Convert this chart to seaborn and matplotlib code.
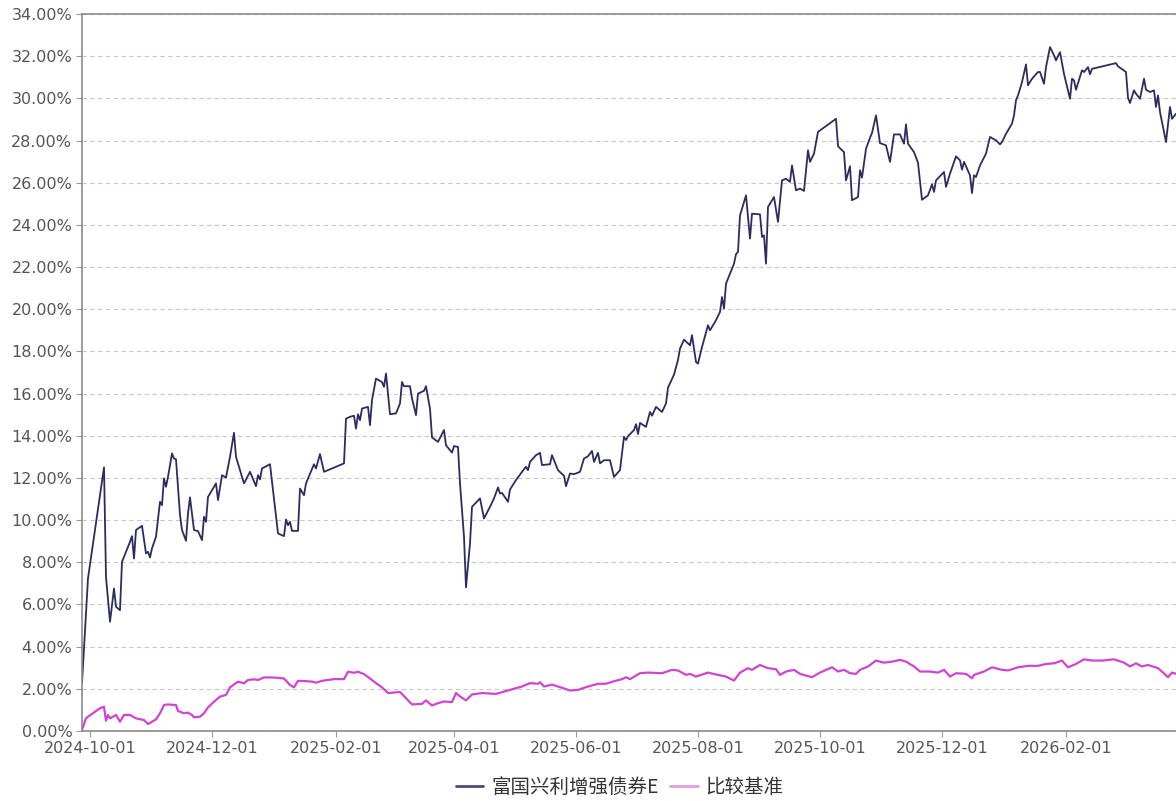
import matplotlib
matplotlib.use("Agg")
import matplotlib.pyplot as plt
import matplotlib.dates as mdates
from matplotlib.lines import Line2D
from matplotlib.ticker import FuncFormatter, MultipleLocator
import seaborn as sns
import pandas as pd

# =====================================
# DATA (cumulative return in %)
# =====================================

fund_name = "富国兴利增强债券E"
bench_name = "比较基准"

fund_dates = [
    "2024-09-27", "2024-09-30", "2024-10-08", "2024-10-09", "2024-10-11", "2024-10-12",
    "2024-10-13", "2024-10-14", "2024-10-16", "2024-10-17", "2024-10-19", "2024-10-21",
    "2024-10-22", "2024-10-23", "2024-10-24", "2024-10-27", "2024-10-29", "2024-10-30",
    "2024-10-31", "2024-11-01", "2024-11-03", "2024-11-05", "2024-11-06", "2024-11-07",
    "2024-11-08", "2024-11-09", "2024-11-11", "2024-11-12", "2024-11-13", "2024-11-15",
    "2024-11-16", "2024-11-18", "2024-11-19", "2024-11-20", "2024-11-22", "2024-11-24",
    "2024-11-26", "2024-11-27", "2024-11-28", "2024-11-29", "2024-12-02", "2024-12-03",
    "2024-12-04", "2024-12-06", "2024-12-08", "2024-12-10", "2024-12-12", "2024-12-13",
    "2024-12-17", "2024-12-20", "2024-12-23", "2024-12-24", "2024-12-25", "2024-12-26",
    "2024-12-30", "2025-01-03", "2025-01-06", "2025-01-07", "2025-01-08", "2025-01-09",
    "2025-01-10", "2025-01-13", "2025-01-14", "2025-01-16", "2025-01-17", "2025-01-21",
    "2025-01-22", "2025-01-24", "2025-01-26", "2025-02-05", "2025-02-06", "2025-02-08",
    "2025-02-10", "2025-02-11", "2025-02-12", "2025-02-13", "2025-02-14", "2025-02-17",
    "2025-02-18", "2025-02-19", "2025-02-21", "2025-02-24", "2025-02-25", "2025-02-26",
    "2025-02-28", "2025-03-03", "2025-03-05", "2025-03-06", "2025-03-07", "2025-03-10",
    "2025-03-11", "2025-03-13", "2025-03-14", "2025-03-17", "2025-03-18", "2025-03-20",
    "2025-03-21", "2025-03-24", "2025-03-27", "2025-03-28", "2025-03-31", "2025-04-01",
    "2025-04-03", "2025-04-04", "2025-04-06", "2025-04-07", "2025-04-09", "2025-04-10",
    "2025-04-14", "2025-04-16", "2025-04-19", "2025-04-21", "2025-04-23", "2025-04-24",
    "2025-04-25", "2025-04-28", "2025-04-29", "2025-05-02", "2025-05-05", "2025-05-07",
    "2025-05-08", "2025-05-09", "2025-05-12", "2025-05-14", "2025-05-15", "2025-05-19",
    "2025-05-20", "2025-05-23", "2025-05-26", "2025-05-27", "2025-05-29", "2025-05-31",
    "2025-06-03", "2025-06-05", "2025-06-07", "2025-06-09", "2025-06-10", "2025-06-12",
    "2025-06-13", "2025-06-15", "2025-06-18", "2025-06-20", "2025-06-23", "2025-06-25",
    "2025-06-26", "2025-06-27", "2025-06-30", "2025-07-01", "2025-07-02", "2025-07-03",
    "2025-07-06", "2025-07-08", "2025-07-09", "2025-07-11", "2025-07-14", "2025-07-16",
    "2025-07-17", "2025-07-20", "2025-07-22", "2025-07-23", "2025-07-25", "2025-07-28",
    "2025-07-29", "2025-07-31", "2025-08-01", "2025-08-03", "2025-08-06", "2025-08-07",
    "2025-08-10", "2025-08-12", "2025-08-13", "2025-08-14", "2025-08-15", "2025-08-18",
    "2025-08-19", "2025-08-20", "2025-08-21", "2025-08-22", "2025-08-25", "2025-08-27",
    "2025-08-28", "2025-09-01", "2025-09-02", "2025-09-03", "2025-09-04", "2025-09-05",
    "2025-09-08", "2025-09-10", "2025-09-12", "2025-09-14", "2025-09-16", "2025-09-17",
    "2025-09-19", "2025-09-21", "2025-09-23", "2025-09-25", "2025-09-26", "2025-09-28",
    "2025-09-30", "2025-10-09", "2025-10-10", "2025-10-13", "2025-10-14", "2025-10-16",
    "2025-10-17", "2025-10-20", "2025-10-21", "2025-10-22", "2025-10-24", "2025-10-26",
    "2025-10-27", "2025-10-29", "2025-10-31", "2025-11-03", "2025-11-05", "2025-11-07",
    "2025-11-10", "2025-11-12", "2025-11-13", "2025-11-14", "2025-11-17", "2025-11-19",
    "2025-11-21", "2025-11-24", "2025-11-26", "2025-11-27", "2025-11-28", "2025-12-02",
    "2025-12-03", "2025-12-05", "2025-12-08", "2025-12-10", "2025-12-11", "2025-12-12",
    "2025-12-15", "2025-12-16", "2025-12-17", "2025-12-18", "2025-12-20", "2025-12-23",
    "2025-12-25", "2025-12-28", "2025-12-30", "2025-12-31", "2026-01-02", "2026-01-05",
    "2026-01-06", "2026-01-07", "2026-01-08", "2026-01-10", "2026-01-12", "2026-01-13",
    "2026-01-15", "2026-01-18", "2026-01-19", "2026-01-21", "2026-01-22", "2026-01-24",
    "2026-01-26", "2026-01-27", "2026-01-29", "2026-01-31", "2026-02-03", "2026-02-04",
    "2026-02-05", "2026-02-06", "2026-02-09", "2026-02-10", "2026-02-12", "2026-02-13",
    "2026-02-14", "2026-02-26", "2026-02-27", "2026-03-03", "2026-03-04", "2026-03-05",
    "2026-03-07", "2026-03-08", "2026-03-10", "2026-03-12", "2026-03-13", "2026-03-15",
    "2026-03-17", "2026-03-18", "2026-03-19", "2026-03-20", "2026-03-23", "2026-03-25",
    "2026-03-26", "2026-03-28",
]

fund_values = [
    2.27, 7.24, 12.50, 7.30, 5.18, 5.97,
    6.76, 5.89, 5.73, 8.02, 8.50, 8.97,
    9.24, 8.18, 9.53, 9.73, 8.42, 8.50,
    8.23, 8.66, 9.21, 10.87, 10.71, 11.98,
    11.58, 12.05, 13.16, 12.92, 12.88, 10.24,
    9.53, 9.02, 10.32, 11.08, 9.53, 9.48,
    9.05, 10.16, 9.92, 11.10, 11.58, 11.74,
    10.95, 12.13, 12.02, 13.00, 14.14, 13.00,
    11.74, 12.29, 11.61, 12.13, 11.93, 12.45,
    12.65, 9.37, 9.24, 10.03, 9.76, 9.92,
    9.49, 9.49, 11.50, 11.18, 11.74, 12.65,
    12.45, 13.13, 12.29, 12.69, 14.81, 14.90,
    14.95, 14.34, 15.02, 14.74, 15.29, 15.37,
    14.50, 15.69, 16.71, 16.55, 16.32, 16.95,
    15.02, 15.06, 15.53, 16.55, 16.35, 16.35,
    15.77, 14.98, 16.00, 16.13, 16.35, 15.29,
    13.92, 13.71, 14.27, 13.55, 13.20, 13.51,
    13.47, 11.74, 9.21, 6.81, 8.89, 10.63,
    11.03, 10.08, 10.63, 11.03, 11.55, 11.26,
    11.29, 10.87, 11.45, 11.90, 12.29, 12.53,
    12.37, 12.76, 13.08, 13.19, 12.61, 12.65,
    13.08, 12.37, 12.10, 11.61, 12.21, 12.18,
    12.29, 12.92, 13.03, 13.28, 12.76, 13.19,
    12.69, 12.84, 12.84, 12.05, 12.37, 13.95,
    13.80, 13.98, 14.27, 14.55, 14.08, 14.61,
    14.42, 15.13, 14.95, 15.37, 15.13, 15.53,
    16.28, 16.90, 17.60, 18.13, 18.56, 18.29,
    18.77, 17.50, 17.42, 18.21, 19.24, 19.00,
    19.48, 19.87, 20.58, 20.03, 21.21, 21.93,
    22.16, 22.61, 22.72, 24.45, 25.40, 23.35,
    24.53, 24.50, 23.43, 23.50, 22.16, 24.85,
    25.32, 24.14, 26.11, 26.19, 26.04, 26.82,
    25.64, 25.72, 25.61, 27.54, 26.99, 27.38,
    28.41, 29.03, 27.73, 27.45, 26.11, 26.78,
    25.17, 25.32, 26.59, 26.24, 27.61, 28.13,
    28.36, 29.19, 27.88, 27.77, 26.99, 28.29,
    28.29, 27.85, 28.77, 27.85, 27.45, 26.95,
    25.19, 25.40, 25.92, 25.56, 26.11, 26.51,
    25.80, 26.43, 27.25, 27.06, 26.62, 26.99,
    26.35, 25.51, 26.35, 26.27, 26.82, 27.38,
    28.17, 28.01, 27.82, 27.93, 28.32, 28.80,
    29.19, 29.91, 30.14, 30.77, 31.61, 30.62,
    30.93, 31.25, 31.25, 30.69, 31.48, 32.43,
    32.04, 31.80, 32.19, 31.16, 29.98, 30.93,
    30.85, 30.41, 31.33, 31.25, 31.48, 31.14,
    31.40, 31.67, 31.52, 31.25, 30.03, 29.78,
    30.38, 30.22, 29.98, 30.93, 30.41, 30.30,
    30.38, 29.59, 30.14, 29.35, 27.93, 29.59,
    29.03, 29.27,
]

bench_dates = [
    "2024-09-27", "2024-09-29", "2024-09-30", "2024-10-06", "2024-10-08", "2024-10-09",
    "2024-10-10", "2024-10-11", "2024-10-14", "2024-10-16", "2024-10-18", "2024-10-21",
    "2024-10-24", "2024-10-28", "2024-10-30", "2024-11-03", "2024-11-05", "2024-11-07",
    "2024-11-09", "2024-11-13", "2024-11-14", "2024-11-17", "2024-11-19", "2024-11-21",
    "2024-11-22", "2024-11-25", "2024-11-27", "2024-11-29", "2024-12-02", "2024-12-05",
    "2024-12-08", "2024-12-10", "2024-12-12", "2024-12-14", "2024-12-17", "2024-12-19",
    "2024-12-22", "2024-12-24", "2024-12-27", "2024-12-30", "2025-01-02", "2025-01-06",
    "2025-01-09", "2025-01-11", "2025-01-13", "2025-01-16", "2025-01-20", "2025-01-22",
    "2025-01-25", "2025-01-31", "2025-02-05", "2025-02-07", "2025-02-10", "2025-02-12",
    "2025-02-15", "2025-02-18", "2025-02-20", "2025-02-24", "2025-02-27", "2025-03-05",
    "2025-03-11", "2025-03-16", "2025-03-18", "2025-03-21", "2025-03-24", "2025-03-27",
    "2025-03-31", "2025-04-02", "2025-04-04", "2025-04-07", "2025-04-10", "2025-04-15",
    "2025-04-22", "2025-04-29", "2025-05-05", "2025-05-09", "2025-05-13", "2025-05-14",
    "2025-05-16", "2025-05-20", "2025-05-24", "2025-05-29", "2025-06-02", "2025-06-06",
    "2025-06-12", "2025-06-16", "2025-06-20", "2025-06-24", "2025-06-26", "2025-06-28",
    "2025-07-03", "2025-07-07", "2025-07-14", "2025-07-19", "2025-07-22", "2025-07-26",
    "2025-07-28", "2025-07-31", "2025-08-06", "2025-08-11", "2025-08-15", "2025-08-19",
    "2025-08-22", "2025-08-26", "2025-08-28", "2025-09-01", "2025-09-05", "2025-09-09",
    "2025-09-11", "2025-09-14", "2025-09-18", "2025-09-21", "2025-09-27", "2025-10-01",
    "2025-10-07", "2025-10-10", "2025-10-13", "2025-10-16", "2025-10-19", "2025-10-21",
    "2025-10-25", "2025-10-29", "2025-11-02", "2025-11-06", "2025-11-10", "2025-11-13",
    "2025-11-17", "2025-11-20", "2025-11-25", "2025-11-29", "2025-12-02", "2025-12-05",
    "2025-12-08", "2025-12-13", "2025-12-16", "2025-12-17", "2025-12-22", "2025-12-26",
    "2025-12-31", "2026-01-03", "2026-01-08", "2026-01-13", "2026-01-18", "2026-01-22",
    "2026-01-26", "2026-01-30", "2026-02-02", "2026-02-06", "2026-02-10", "2026-02-14",
    "2026-02-19", "2026-02-25", "2026-03-02", "2026-03-05", "2026-03-08", "2026-03-11",
    "2026-03-14", "2026-03-19", "2026-03-21", "2026-03-24", "2026-03-26", "2026-03-28",
]

bench_values = [
    0.05, 0.60, 0.68, 1.08, 1.15, 0.49,
    0.76, 0.60, 0.76, 0.44, 0.76, 0.76,
    0.60, 0.52, 0.33, 0.55, 0.84, 1.23,
    1.26, 1.23, 0.95, 0.84, 0.87, 0.76,
    0.65, 0.68, 0.84, 1.12, 1.39, 1.63,
    1.71, 2.07, 2.21, 2.34, 2.26, 2.42,
    2.45, 2.42, 2.54, 2.54, 2.53, 2.49,
    2.18, 2.07, 2.38, 2.37, 2.34, 2.29,
    2.38, 2.46, 2.46, 2.81, 2.76, 2.81,
    2.70, 2.49, 2.34, 2.07, 1.80, 1.85,
    1.26, 1.29, 1.45, 1.21, 1.32, 1.40,
    1.37, 1.80, 1.64, 1.45, 1.73, 1.80,
    1.76, 1.95, 2.11, 2.27, 2.24, 2.31,
    2.11, 2.20, 2.08, 1.92, 1.95, 2.08,
    2.24, 2.24, 2.36, 2.46, 2.55, 2.46,
    2.74, 2.77, 2.74, 2.90, 2.87, 2.66,
    2.71, 2.58, 2.77, 2.66, 2.58, 2.39,
    2.77, 2.98, 2.90, 3.13, 2.98, 2.93,
    2.66, 2.82, 2.90, 2.71, 2.55, 2.77,
    3.02, 2.82, 2.90, 2.74, 2.71, 2.90,
    3.06, 3.34, 3.24, 3.29, 3.37, 3.29,
    3.06, 2.82, 2.82, 2.77, 2.90, 2.58,
    2.74, 2.71, 2.50, 2.66, 2.82, 3.02,
    2.90, 2.87, 3.02, 3.09, 3.09, 3.18,
    3.21, 3.34, 3.02, 3.18, 3.40, 3.34,
    3.34, 3.40, 3.24, 3.06, 3.21, 3.06,
    3.13, 2.98, 2.82, 2.55, 2.77, 2.71,
]

y_ticks = list(range(0, 35, 2))
x_start = "2024-09-27"
x_end = "2026-03-28"

fund_df = pd.DataFrame({"date": pd.to_datetime(fund_dates), "value": fund_values})
bench_df = pd.DataFrame({"date": pd.to_datetime(bench_dates), "value": bench_values})

# =====================================
# STYLE
# =====================================

sns.set_theme(style="white")
plt.rcParams['font.family'] = ['DejaVu Sans', 'Noto Sans CJK SC']

FUND_COLOR = "#2c2d5f"
BENCH_COLOR = "#cf45d2"

fig = plt.figure(figsize=(11.76, 8.01), dpi=100)
ax = fig.add_axes([82 / 1176, 70 / 801, 1094 / 1176, 717 / 801])

# =====================================
# LINES
# =====================================

sns.lineplot(data=bench_df, x="date", y="value", ax=ax,
             color=BENCH_COLOR, linewidth=1.6, legend=False)
sns.lineplot(data=fund_df, x="date", y="value", ax=ax,
             color=FUND_COLOR, linewidth=1.3, legend=False)

# =====================================
# AXES
# =====================================

ax.set_xlim(pd.Timestamp(x_start), pd.Timestamp(x_end))
ax.set_ylim(0, 34)
ax.set_yticks(y_ticks)
ax.yaxis.set_major_formatter(FuncFormatter(lambda v, p: f"{v:.2f}%"))

ax.xaxis.set_major_locator(mdates.MonthLocator(bymonth=[2, 4, 6, 8, 10, 12], bymonthday=1))
ax.xaxis.set_major_formatter(mdates.DateFormatter("%Y-%m-%d"))

ax.set_xlabel("")
ax.set_ylabel("")

ax.grid(axis="y", color="#c8c8c8", linestyle=(0, (4, 3)), linewidth=0.8)
ax.grid(axis="x", visible=False)

for side in ["left", "bottom", "top"]:
    ax.spines[side].set_color("#8a8a8a")
    ax.spines[side].set_linewidth(1.2)
ax.spines["right"].set_visible(False)

ax.tick_params(axis="y", labelsize=11.5, labelcolor="#555555", length=4,
               width=0.8, color="#999999", pad=3, left=True)
ax.tick_params(axis="x", labelsize=11.5, labelcolor="#555555", length=4,
               width=0.8, color="#999999", pad=3, bottom=True)

# =====================================
# LEGEND
# =====================================

handles = [
    Line2D([0], [0], color="#4a4b78", linewidth=2),
    Line2D([0], [0], color="#dc9fdf", linewidth=2),
]
fig.legend(handles, [fund_name, bench_name], loc="center",
           bbox_to_anchor=(0.527, 0.017), ncol=2, frameon=False,
           handlelength=1.4, handletextpad=0.4, columnspacing=0.6,
           prop={"family": ["Noto Sans CJK SC", "DejaVu Sans"], "size": 14},
           labelcolor="#333333")

fig.savefig("out.png", dpi=100)
